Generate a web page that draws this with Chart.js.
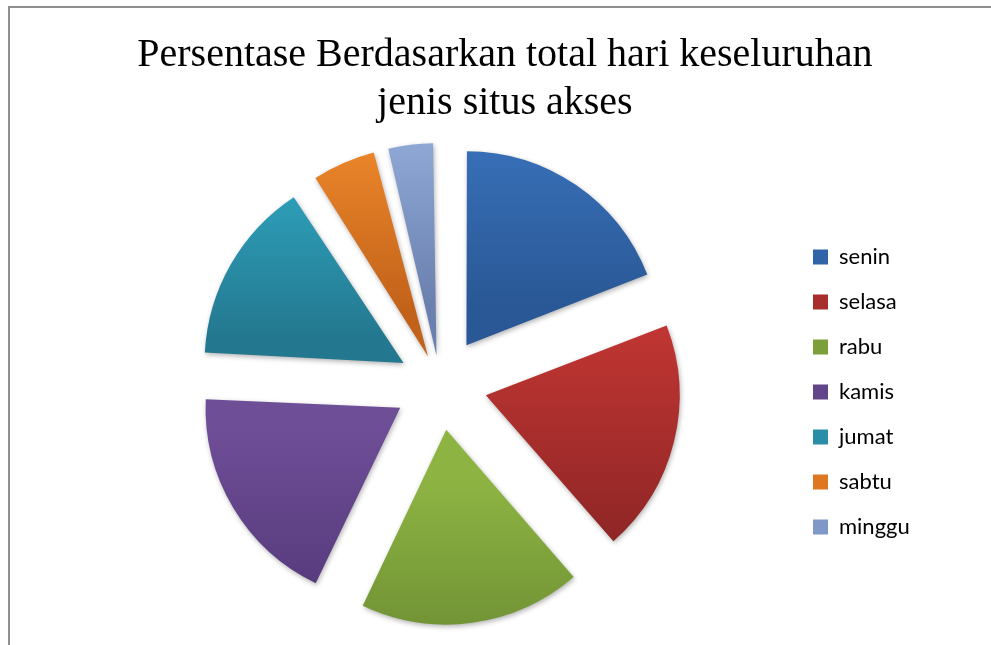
<!DOCTYPE html>
<html>
<head>
<meta charset="utf-8">
<script src="https://cdn.jsdelivr.net/npm/chart.js@4.4.1/dist/chart.umd.min.js"></script>
<style>
html,body{margin:0;padding:0;background:#fff;}
#wrap{position:relative;width:991px;height:645px;overflow:hidden;}
#frame{position:absolute;left:8px;top:6px;width:1100px;height:800px;border-left:2px solid #8f8f8f;border-top:2px solid #8f8f8f;box-sizing:border-box;}
#c{position:absolute;left:0;top:0;}
</style>
</head>
<body>
<div id="wrap"><div id="frame"></div><canvas id="c" width="991" height="645"></canvas></div>
<script>
// ---- data ----
const categories = ['senin', 'selasa', 'rabu', 'kamis', 'jumat', 'sabtu', 'minggu'];
const values = [19.1, 19.5, 18.5, 18.65, 15.05, 5.3, 3.9];
const titleLines = ['Persentase Berdasarkan total hari keseluruhan', 'jenis situs akses'];

// ---- styles ----
const topColors    = ['#3A74BE', '#BE3532', '#8DB443', '#6F4E98', '#2FA2BD', '#F08A2C', '#94AEDB'];
const bottomColors = ['#2A5896', '#8C2525', '#6A8A31', '#55397A', '#23788F', '#C2621A', '#6A80AE'];
const legendColors = ['#2F64A8', '#A82E2E', '#7C9F3A', '#62448A', '#2A8EA8', '#DD7722', '#8098C8'];

const W = 991, H = 645;
const explode = 50;          // pixel distance each slice is pulled out
const pieRadius = 191;
const cx = 440, cy = 384;    // desired pie centre
const legendFont = 22, boxW = 15, labPad = 23, boxX = 813;
const legendFamily = 'Lato';

const total = values.reduce((a, b) => a + b, 0);
function arcOffset(c) {
  const circ = c.raw / total * 2 * Math.PI;
  const fix = 1 - Math.sin(Math.min(Math.PI, circ));
  return 4 * explode / (1 + fix);
}

// layout computation
const mctx = document.createElement('canvas').getContext('2d');
mctx.font = legendFont + 'px ' + legendFamily;
const maxText = Math.max(...categories.map(t => mctx.measureText(t).width));
const colWidth = boxW + legendFont / 2 + maxText;
const legendLeft = boxX - labPad;
const padL = 2 * cx - legendLeft;
const padR = W - legendLeft - (labPad + colWidth + 10);

const titleSize = 40, titleLH = 1.2, titlePadTop = 31, titlePadBottom = 10;
const chartTop = titlePadTop + 2 * titleSize * titleLH + titlePadBottom;
const padB = H - (2 * cy - chartTop);

const gradPlugin = {
  id: 'sliceGradient',
  beforeDatasetsDraw(chart) {
    const meta = chart.getDatasetMeta(0);
    const ctx = chart.ctx;
    meta.data.forEach((arc, i) => {
      const s = arc.startAngle, e = arc.endAngle;
      const circ = e - s;
      const half = (s + e) / 2;
      const off = (arc.options.offset || 0) / 4;
      const fix = 1 - Math.sin(Math.min(Math.PI, circ));
      const t = off * (1 + fix);
      const oy = arc.y + Math.sin(half) * t;
      let minY = oy, maxY = oy;
      for (let k = 0; k <= 40; k++) {
        const a = s + circ * k / 40;
        const y = oy + Math.sin(a) * arc.outerRadius;
        minY = Math.min(minY, y); maxY = Math.max(maxY, y);
      }
      const g = ctx.createLinearGradient(0, minY, 0, maxY);
      g.addColorStop(0, topColors[i]);
      g.addColorStop(1, bottomColors[i]);
      arc.options.backgroundColor = g;
    });
    ctx.save();
    ctx.shadowColor = 'rgba(0,0,0,0.30)';
    ctx.shadowBlur = 5;
    ctx.shadowOffsetX = 1;
    ctx.shadowOffsetY = 2;
  },
  afterDatasetsDraw(chart) {
    chart.ctx.restore();
  }
};

new Chart(document.getElementById('c'), {
  type: 'pie',
  data: {
    labels: categories,
    datasets: [{
      data: values,
      backgroundColor: (c) => legendColors[c.dataIndex],
      borderWidth: 0,
      offset: arcOffset,
      hoverOffset: 0
    }]
  },
  options: {
    responsive: false,
    animation: false,
    radius: pieRadius,
    layout: { padding: { left: padL, right: padR, top: 0, bottom: padB } },
    plugins: {
      tooltip: { enabled: false },
      title: {
        display: true,
        text: titleLines,
        color: '#000',
        font: { family: "'Liberation Serif', 'Times New Roman', serif", size: titleSize, weight: 'normal', lineHeight: titleLH },
        padding: { top: titlePadTop, bottom: titlePadBottom }
      },
      legend: {
        position: 'right',
        align: 'center',
        title: { display: true, text: '', font: { size: 1 }, padding: { top: 152, bottom: 0 } },
        labels: {
          boxWidth: boxW,
          boxHeight: 15,
          padding: labPad,
          color: '#000',
          font: { family: legendFamily, size: legendFont }
        }
      }
    }
  },
  plugins: [gradPlugin]
});
</script>
</body>
</html>
